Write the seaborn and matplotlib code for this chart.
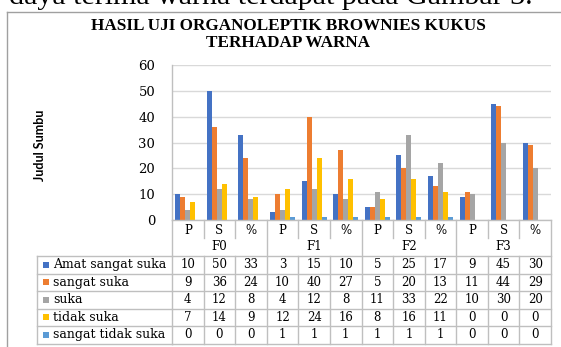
import numpy as np
import pandas as pd
import matplotlib
matplotlib.use("Agg")
import matplotlib.pyplot as plt
import matplotlib.transforms as mtransforms
from matplotlib.lines import Line2D
from matplotlib.patches import Rectangle
import seaborn as sns

# ---- data ----
title_lines = ["HASIL UJI ORGANOLEPTIK BROWNIES KUKUS", "TERHADAP WARNA"]
caption_text = "daya terima warna terdapat pada Gambar 3."
y_title = "Judul Sumbu"
groups = ["F0", "F1", "F2", "F3"]
subcols = ["P", "S", "%"]
series_names = ["Amat sangat suka", "sangat suka", "suka", "tidak suka", "sangat tidak suka"]
amat_sangat_suka = [10, 50, 33, 3, 15, 10, 5, 25, 17, 9, 45, 30]
sangat_suka = [9, 36, 24, 10, 40, 27, 5, 20, 13, 11, 44, 29]
suka = [4, 12, 8, 4, 12, 8, 11, 33, 22, 10, 30, 20]
tidak_suka = [7, 14, 9, 12, 24, 16, 8, 16, 11, 0, 0, 0]
sangat_tidak_suka = [0, 0, 0, 1, 1, 1, 1, 1, 1, 0, 0, 0]
series_values = [amat_sangat_suka, sangat_suka, suka, tidak_suka, sangat_tidak_suka]
palette = ["#4472C4", "#ED7D31", "#A5A5A5", "#FFC000", "#5B9BD5"]

columns = [f"{g} {s}" for g in groups for s in subcols]
df = pd.DataFrame(
    [(col, name, vals[i]) for name, vals in zip(series_names, series_values)
     for i, col in enumerate(columns)],
    columns=["kolom", "kategori", "nilai"],
)

W, H = 561, 347
fig = plt.figure(figsize=(W / 100, H / 100), dpi=100)
fig.patch.set_facecolor("white")


def fx(px):
    return px / W


def fy(py):
    return 1 - py / H


SERIF = "DejaVu Serif"
GRID = "#D9D9D9"
LINE = "#BFBFBF"

ax = fig.add_axes([fx(172), fy(220), fx(551) - fx(172), fy(65) - fy(220)])
sns.barplot(data=df, x="kolom", y="nilai", hue="kategori", order=columns,
            hue_order=series_names, palette=palette, width=0.79, saturation=1,
            edgecolor="none", legend=False, ax=ax)
ax.set_xlim(-0.5, len(columns) - 0.5)
ax.set_ylim(0, 60)
ax.set_yticks(range(0, 61, 10))
ax.set_xticks([])
ax.set_xlabel("")
ax.set_ylabel("")
ax.set_axisbelow(True)
ax.yaxis.grid(True, color=GRID, lw=1)
for side in ["top", "right"]:
    ax.spines[side].set_visible(False)
for side in ["left", "bottom"]:
    ax.spines[side].set_color(LINE)
    ax.spines[side].set_linewidth(1)
ax.tick_params(axis="y", length=0, pad=12, labelsize=9.5)
for lab in ax.get_yticklabels():
    lab.set_fontfamily(SERIF)

# ---- outer frame and text ----
fig.add_artist(Line2D([fx(7), fx(W + 5)], [fy(12), fy(12)], transform=fig.transFigure, color="#A0A0A0", lw=1))
fig.add_artist(Line2D([fx(7), fx(7)], [fy(12), fy(H + 5)], transform=fig.transFigure, color="#A0A0A0", lw=1))
fig.text(fx(9), fy(4), caption_text, family="Liberation Serif", fontsize=21.6, va="baseline", ha="left")
for line, yc in zip(title_lines, [26, 43]):
    fig.text(fx(288), fy(yc), line, family="Liberation Serif", fontweight="bold",
             fontsize=12.3, ha="center", va="center")
fig.text(fx(40), fy(145), y_title, family="Lato", fontweight="bold", fontsize=9,
         rotation=90, ha="center", va="center")

# ---- data table below the axis ----
tr = mtransforms.blended_transform_factory(ax.transData, fig.transFigure)
row_top = 256
row_h = 17.5
n_rows = len(series_names)
table_bottom = row_top + n_rows * row_h


def vline(xd, y0, y1):
    fig.add_artist(Line2D([xd, xd], [fy(y0), fy(y1)], transform=tr, color=LINE, lw=1))


for i in range(len(columns) + 1):
    xd = i - 0.5
    if i % 3 == 0:
        vline(xd, 220, table_bottom)
    else:
        vline(xd, 220, 238)
        vline(xd, row_top, table_bottom)

for r in range(n_rows + 1):
    yy = fy(row_top + r * row_h)
    fig.add_artist(Line2D([fx(37), fx(172)], [yy, yy], transform=fig.transFigure, color=LINE, lw=1))
    fig.add_artist(Line2D([-0.5, len(columns) - 0.5], [yy, yy], transform=tr, color=LINE, lw=1))
fig.add_artist(Line2D([fx(37), fx(37)], [fy(row_top), fy(table_bottom)], transform=fig.transFigure, color=LINE, lw=1))

for i, col in enumerate(columns):
    fig.text(i, fy(230), subcols[i % 3], transform=tr, family=SERIF, fontsize=8.5, ha="center", va="center")
for g, name in enumerate(groups):
    fig.text(g * 3 + 1, fy(247), name, transform=tr, family=SERIF, fontsize=8.5, ha="center", va="center")

for r, (name, vals, colr) in enumerate(zip(series_names, series_values, palette)):
    yc = row_top + (r + 0.5) * row_h
    fig.add_artist(Rectangle((fx(43), fy(yc + 3)), fx(6), 6 / H, transform=fig.transFigure,
                             facecolor=colr, edgecolor="none"))
    fig.text(fx(53), fy(yc), name, family=SERIF, fontsize=9, ha="left", va="center")
    for i, v in enumerate(vals):
        fig.text(i, fy(yc), str(v), transform=tr, family=SERIF, fontsize=8.5, ha="center", va="center")

fig.savefig("out.png", dpi=100, facecolor="white")
